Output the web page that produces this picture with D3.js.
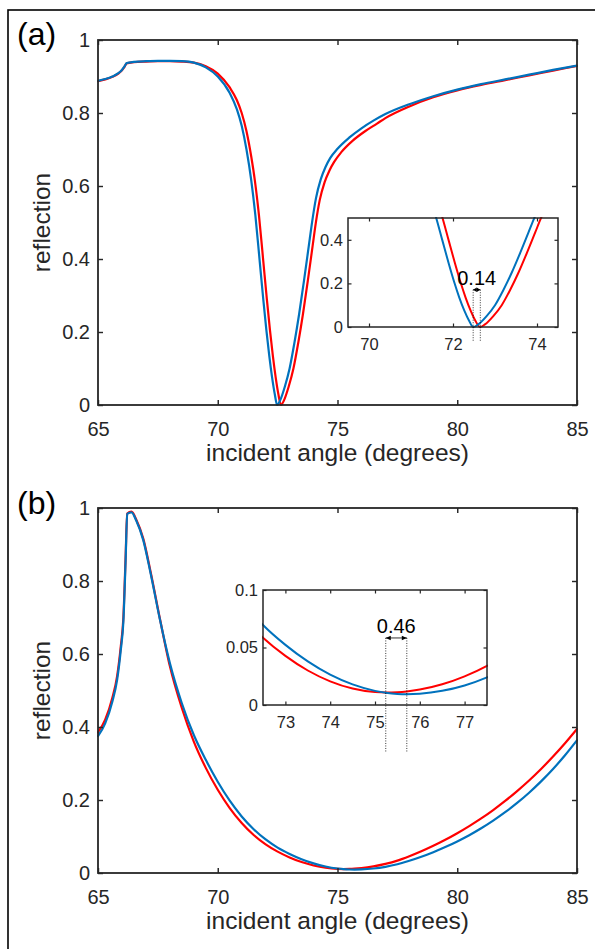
<!DOCTYPE html>
<html><head><meta charset="utf-8">
<script src="https://cdn.jsdelivr.net/npm/d3@7"></script>
<style>
body{margin:0;background:#fff}
text{font-family:"Liberation Sans",Arial,Helvetica,sans-serif}
</style>
</head><body>
<svg id="fig" width="595" height="949"></svg>
<script>
// ---------- DATA ----------
// Panel (a)
const aBlueAngle = [65.0,65.3,65.6,65.85,66.0,66.1,66.2,66.5,67.0,67.5,68.0,68.5,69.0,69.5,70.0,70.5,70.8,71.0,71.2,71.4,71.57,71.75,71.9,72.03,72.15,72.27,72.38,72.48,72.6,72.8,73.0,73.2,73.4,73.6,73.8,73.93,74.1,74.3,74.5,74.7,75.0,75.5,76.0,76.5,77.0,78.0,79.0,80.0,81.0,82.0,83.0,84.0,85.0];
const aBlueR     = [0.888,0.893,0.900,0.909,0.918,0.927,0.937,0.940,0.942,0.943,0.943,0.942,0.938,0.925,0.900,0.855,0.810,0.765,0.700,0.615,0.520,0.395,0.290,0.205,0.135,0.075,0.030,0.000,0.012,0.050,0.100,0.170,0.250,0.340,0.435,0.497,0.566,0.618,0.652,0.677,0.702,0.733,0.758,0.779,0.797,0.824,0.846,0.864,0.879,0.892,0.905,0.918,0.930];
const aRedAngle  = [65.0,65.3,65.6,65.85,66.0,66.1,66.2,66.5,67.0,67.5,68.0,68.5,69.0,69.5,70.0,70.5,70.8,71.0,71.2,71.4,71.55,71.72,71.9,72.05,72.18,72.3,72.42,72.53,72.64,72.76,72.96,73.16,73.36,73.56,73.76,73.96,74.09,74.26,74.46,74.66,74.86,75.15,75.65,76.15,76.65,77.0,78.0,79.0,80.0,81.0,82.0,83.0,84.0,85.0];
const aRedR      = [0.887,0.892,0.899,0.908,0.917,0.926,0.936,0.939,0.941,0.942,0.942,0.941,0.938,0.928,0.908,0.870,0.835,0.800,0.750,0.680,0.615,0.520,0.395,0.290,0.205,0.135,0.075,0.030,0.000,0.012,0.050,0.100,0.170,0.250,0.340,0.435,0.497,0.562,0.610,0.642,0.666,0.692,0.725,0.750,0.771,0.786,0.818,0.843,0.862,0.877,0.890,0.903,0.916,0.929];
const aDips      = [72.48, 72.65];
const aDipLabel  = "0.14";

// Panel (b)
const bBlueAngle = [65.0,65.3,65.6,65.8,65.95,66.06,66.15,66.22,66.4,66.6,66.89,67.2,67.59,68.0,68.5,69.0,69.5,70.0,70.5,71.0,71.5,72.0,72.5,73.0,73.5,74.0,74.5,75.0,75.24,75.5,75.71,76.0,76.5,77.0,77.5,78.0,78.5,79.0,79.5,80.0,80.5,81.0,81.5,82.0,82.5,83.0,83.5,84.0,84.5,85.0];
const bBlueR     = [0.375,0.410,0.470,0.530,0.610,0.690,0.850,0.984,0.988,0.965,0.912,0.820,0.693,0.575,0.465,0.378,0.310,0.250,0.198,0.155,0.120,0.092,0.0696,0.0523,0.0379,0.0264,0.0179,0.0123,0.0106,0.0096,0.0094,0.0098,0.0123,0.0170,0.0240,0.0335,0.0445,0.057,0.071,0.0865,0.1035,0.1225,0.1435,0.1665,0.192,0.220,0.251,0.285,0.3225,0.3635];
const bRedAngle  = [65.0,65.3,65.6,65.8,65.95,66.06,66.15,66.22,66.4,66.6,66.89,67.2,67.59,68.0,68.5,69.0,69.5,70.0,70.5,71.0,71.5,72.0,72.5,73.0,73.5,74.0,74.5,75.0,75.24,75.5,75.71,76.0,76.5,77.0,77.5,78.0,78.5,79.0,79.5,80.0,80.5,81.0,81.5,82.0,82.5,83.0,83.5,84.0,84.5,85.0];
const bRedR      = [0.385,0.420,0.480,0.540,0.620,0.700,0.860,0.985,0.990,0.968,0.916,0.824,0.695,0.567,0.452,0.360,0.288,0.228,0.178,0.137,0.104,0.0785,0.0585,0.0427,0.0300,0.0206,0.0143,0.0112,0.0108,0.0111,0.0118,0.0134,0.0180,0.0249,0.0340,0.046,0.0595,0.0745,0.091,0.109,0.1285,0.1495,0.1725,0.1975,0.2245,0.2535,0.285,0.319,0.3555,0.3945];
const bDips      = [75.24, 75.71];
const bDipLabel  = "0.46";

// Axis ticks
const mainXTicks = [65,70,75,80,85];
const mainYTicks = [0,0.2,0.4,0.6,0.8,1];
const insetAXTicks = [70,72,74];
const insetAYTicks = [0,0.2,0.4];
const insetBXTicks = [73,74,75,76,77];
const insetBYTicks = [0,0.05,0.1];

// ---------- DRAWING ----------
const RED = "#FF0000", BLUE = "#0072BD", AX = "#262626";
const svg = d3.select("#fig");

// figure frame (extends past the right / bottom edges)
svg.append("rect").attr("x",8).attr("y",10).attr("width",620).attr("height",980)
  .attr("fill","none").attr("stroke","#000").attr("stroke-width",1.6);

let clipId = 0;
function drawAxes(o){
  const g = svg.append("g").attr("transform",`translate(${o.x0},${o.y0})`);
  const x = d3.scaleLinear().domain(o.xd).range([0,o.w]);
  const y = d3.scaleLinear().domain(o.yd).range([o.h,0]);
  g.append("rect").attr("width",o.w).attr("height",o.h).attr("fill","#fff");
  const id = "clip"+(clipId++);
  g.append("clipPath").attr("id",id).append("rect").attr("x",-1).attr("y",-1).attr("width",o.w+2).attr("height",o.h+2);
  const line = d3.line().x(d=>x(d[0])).y(d=>y(d[1])).curve(d3.curveMonotoneX);
  const cg = g.append("g").attr("clip-path",`url(#${id})`);
  o.series.forEach(s=>{
    cg.append("path").datum(d3.zip(s.x,s.y)).attr("d",line)
      .attr("fill","none").attr("stroke",s.color).attr("stroke-width",o.clw)
      .attr("stroke-linejoin","round").attr("stroke-linecap","round");
  });
  const styleAxis = sel=>{
    sel.select(".domain").remove();
    sel.selectAll("line").attr("stroke",AX).attr("stroke-width",o.lw*0.8);
    sel.selectAll("text").attr("fill",AX).attr("font-size",o.fs+"px")
       .style("font-family","'Liberation Sans',Arial,sans-serif");
  };
  g.append("g").attr("transform",`translate(0,${o.h})`)
    .call(d3.axisBottom(x).tickValues(o.xt).tickFormat(o.xf||d3.format("")).tickSize(-o.tl).tickPadding(o.xpad))
    .call(styleAxis);
  g.append("g").call(d3.axisTop(x).tickValues(o.xt).tickFormat("").tickSize(-o.tl)).call(styleAxis);
  g.append("g")
    .call(d3.axisLeft(y).tickValues(o.yt).tickFormat(o.yf||d3.format("")).tickSize(-o.tl).tickPadding(o.ypad))
    .call(styleAxis);
  g.append("g").attr("transform",`translate(${o.w},0)`)
    .call(d3.axisRight(y).tickValues(o.yt).tickFormat("").tickSize(-o.tl)).call(styleAxis);
  g.append("rect").attr("width",o.w).attr("height",o.h).attr("fill","none")
    .attr("stroke",AX).attr("stroke-width",o.lw);
  return {g,x,y};
}

function mainPanel(y0, blueX, blueY, redX, redY, letter, letterY){
  const r = drawAxes({x0:98,y0:y0,w:479,h:365,xd:[65,85],yd:[0,1],xt:mainXTicks,yt:mainYTicks,
    tl:5,lw:1.8,clw:2.2,fs:20,xpad:17,ypad:8,
    series:[{x:redX,y:redY,color:RED},{x:blueX,y:blueY,color:BLUE}]});
  svg.append("text").attr("x",98+479/2).attr("y",y0+365+56).attr("text-anchor","middle")
    .attr("font-size","24.5px").attr("fill",AX).text("incident angle (degrees)");
  svg.append("text").attr("transform",`translate(50,${y0+365/2}) rotate(-90)`).attr("text-anchor","middle")
    .attr("font-size","24.5px").attr("fill",AX).text("reflection");
  svg.append("text").attr("x",17).attr("y",letterY).attr("font-size","32px").attr("fill","#000").text(letter);
  return r;
}

function annotate(r, dips, yArrow, yBottom, label){
  const g = r.g, x = r.x, y = r.y;
  dips.forEach(d=>{
    g.append("line").attr("x1",x(d)).attr("x2",x(d)).attr("y1",y(yArrow)).attr("y2",y(yBottom))
      .attr("stroke","#000").attr("stroke-width",0.8).attr("stroke-dasharray","1,1.5");
  });
  const xa = x(dips[0]), xb = x(dips[1]), ya = y(yArrow);
  g.append("line").attr("x1",xa).attr("x2",xb).attr("y1",ya).attr("y2",ya).attr("stroke","#000").attr("stroke-width",0.8);
  const hl = Math.min(5,(xb-xa)/2), hw = 2.2;
  g.append("path").attr("d",`M${xa},${ya}L${xa+hl},${ya-hw}L${xa+hl},${ya+hw}Z`).attr("fill","#000");
  g.append("path").attr("d",`M${xb},${ya}L${xb-hl},${ya-hw}L${xb-hl},${ya+hw}Z`).attr("fill","#000");
  g.append("text").attr("x",(xa+xb)/2).attr("y",ya-5).attr("text-anchor","middle")
    .attr("font-size","20px").attr("fill","#000").text(label);
}

// Panel (a)
mainPanel(40, aBlueAngle, aBlueR, aRedAngle, aRedR, "(a)", 45);
const insA = drawAxes({x0:348,y0:218,w:210,h:109,xd:[69.5,74.5],yd:[0,0.5],xt:insetAXTicks,yt:insetAYTicks,
  tl:3.5,lw:1.5,clw:2,fs:16.5,xpad:11.5,ypad:5,
  series:[{x:aRedAngle,y:aRedR,color:RED},{x:aBlueAngle,y:aBlueR,color:BLUE}]});
annotate(insA, aDips, 0.171, -0.065, aDipLabel);

// Panel (b)
mainPanel(508, bBlueAngle, bBlueR, bRedAngle, bRedR, "(b)", 514);
const insB = drawAxes({x0:263,y0:590,w:224,h:115,xd:[72.5,77.5],yd:[0,0.1],xt:insetBXTicks,yt:insetBYTicks,
  tl:3.5,lw:1.5,clw:2,fs:16.5,xpad:11.5,ypad:5,
  series:[{x:bRedAngle,y:bRedR,color:RED},{x:bBlueAngle,y:bBlueR,color:BLUE}]});
annotate(insB, bDips, 0.0583, -0.0415, bDipLabel);
</script>
</body></html>
